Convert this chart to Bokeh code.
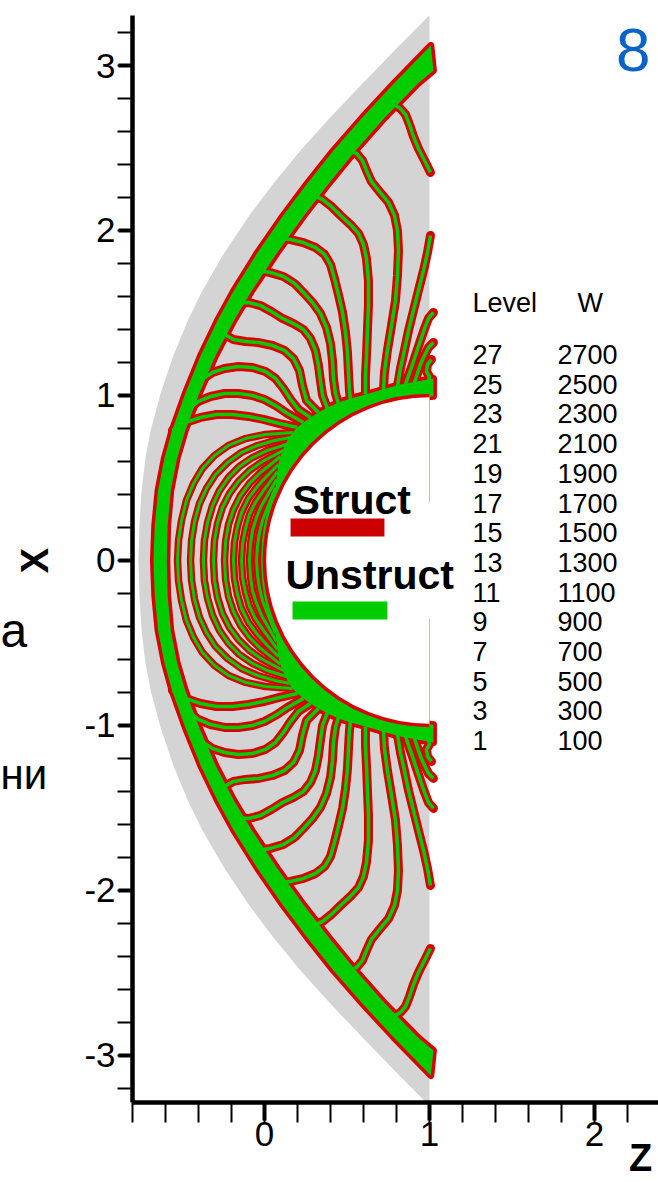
import math
from bokeh.plotting import figure
from bokeh.models import Range1d, FixedTicker, Label, ColumnDataSource
from bokeh.core.properties import value
from bokeh.embed import file_html
from bokeh.resources import INLINE

# ---------------------------------------------------------------
# Geometry and contour traces (upper half, z along axis, x across)
# The flow field is symmetric about x = 0; lower half is mirrored.
# ---------------------------------------------------------------

# bow shock (edge of the computational domain)
shock_z = [0.992, 0.788, 0.594, 0.398, 0.218, 0.054, -0.092, -0.242, -0.376, -0.465,
           -0.552, -0.628, -0.690, -0.722, -0.745, -0.758, -0.764]
shock_x = [3.297, 3.091, 2.891, 2.685, 2.485, 2.285, 2.091, 1.867, 1.636, 1.455,
           1.242, 1.018, 0.788, 0.618, 0.424, 0.212, 0.0]

# shock-layer band where the contour levels pile up
band_out_z = [1.008, 0.784, 0.593, 0.418, 0.259, 0.113, -0.042, -0.186, -0.285, -0.387,
              -0.478, -0.560, -0.607, -0.645, -0.665, -0.673]
band_out_x = [3.121, 2.891, 2.685, 2.485, 2.285, 2.091, 1.867, 1.636, 1.455, 1.242,
              1.018, 0.788, 0.618, 0.424, 0.212, 0.0]
band_in_z = [1.024, 0.930, 0.730, 0.553, 0.390, 0.240, 0.078, -0.076, -0.185, -0.296,
             -0.393, -0.480, -0.530, -0.568, -0.587, -0.592]
band_in_x = [2.970, 2.891, 2.685, 2.485, 2.285, 2.091, 1.867, 1.636, 1.455, 1.242,
             1.018, 0.788, 0.618, 0.424, 0.212, 0.0]

# band hugging the body surface (outer edge, then back inside the body)
body_band_z = [1.024, 0.824, 0.715, 0.612, 0.521, 0.448, 0.382, 0.327, 0.279, 0.236, 0.200,
               0.170, 0.145, 0.127, 0.109, 0.097, 0.085, 0.079, 0.073, 0.067, 0.061, 0.067,
               0.98, 0.98, 1.024]
body_band_x = [1.103, 1.067, 1.036, 1.006, 0.982, 0.958, 0.927, 0.897, 0.867, 0.836, 0.806,
               0.776, 0.739, 0.703, 0.667, 0.630, 0.588, 0.545, 0.497, 0.448, 0.400, 0.364,
               0.364, 0.990, 0.995]

# body: circle of radius 1 centred on the axis at z = 1
body_z0, body_x0, body_r = 1.0, 0.0, 1.0

# contour lines running from the shock band towards the body
L1_z = [0.782, 0.824, 0.855, 0.879, 0.903, 0.933, 0.970, 1.006]
L1_x = [2.764, 2.739, 2.703, 2.642, 2.570, 2.497, 2.424, 2.352]
L2_z = [1.006, 0.988, 0.964, 0.933, 0.903, 0.873, 0.848, 0.824, 0.806]
L2_x = [1.970, 1.867, 1.758, 1.636, 1.515, 1.394, 1.273, 1.164, 1.055]
H1_z = [1.024, 0.994, 0.970, 0.945, 0.921, 0.897, 0.873, 0.855]
H1_x = [1.503, 1.467, 1.406, 1.333, 1.261, 1.188, 1.121, 1.067]
H2_z = [1.024, 0.994, 0.970, 0.945, 0.927, 0.909]
H2_x = [1.321, 1.291, 1.242, 1.188, 1.133, 1.079]
H3_z = [1.012, 0.988, 0.982, 1.000, 0.994]
H3_x = [1.218, 1.188, 1.145, 1.115, 1.079]
L3_z = [0.509, 0.558, 0.594, 0.618, 0.648, 0.697, 0.752, 0.788, 0.806, 0.812, 0.806,
        0.794, 0.770, 0.745, 0.727, 0.721]
L3_x = [2.485, 2.467, 2.424, 2.364, 2.297, 2.236, 2.170, 2.091, 2.000, 1.879, 1.727,
        1.576, 1.424, 1.273, 1.139, 1.030]
L4_z = [0.297, 0.352, 0.406, 0.461, 0.521, 0.570, 0.600, 0.618, 0.630, 0.630, 0.624,
        0.618, 0.612, 0.612]
L4_x = [2.212, 2.188, 2.145, 2.091, 2.036, 1.982, 1.915, 1.830, 1.697, 1.545, 1.394,
        1.242, 1.121, 1.006]
L5_z = [0.085, 0.158, 0.236, 0.309, 0.364, 0.400, 0.424, 0.448, 0.473, 0.491, 0.503,
        0.509, 0.515, 0.521]
L5_x = [1.952, 1.945, 1.927, 1.897, 1.855, 1.794, 1.709, 1.612, 1.503, 1.382, 1.261,
        1.139, 1.030, 0.976]
L6_z = [-0.036, 0.036, 0.115, 0.182, 0.236, 0.291, 0.339, 0.376, 0.400, 0.412, 0.418,
        0.430, 0.448]
L6_x = [1.758, 1.745, 1.721, 1.679, 1.624, 1.564, 1.497, 1.412, 1.315, 1.212, 1.103,
        1.012, 0.952]
L7_z = [-0.170, -0.097, -0.024, 0.042, 0.109, 0.176, 0.236, 0.279, 0.309, 0.327, 0.339,
        0.352, 0.382]
L7_x = [1.558, 1.564, 1.545, 1.509, 1.467, 1.436, 1.400, 1.345, 1.273, 1.182, 1.091,
        1.000, 0.921]
L8_z = [-0.242, -0.188, -0.115, -0.036, 0.048, 0.121, 0.176, 0.212, 0.230, 0.255, 0.327]
L8_x = [1.370, 1.339, 1.327, 1.321, 1.303, 1.273, 1.224, 1.152, 1.061, 0.970, 0.897]
L9_z = [-0.370, -0.315, -0.242, -0.158, -0.073, 0.006, 0.067, 0.115, 0.158, 0.206, 0.279]
L9_x = [1.103, 1.139, 1.164, 1.176, 1.170, 1.145, 1.103, 1.042, 0.976, 0.915, 0.867]
L10_z = [-0.455, -0.400, -0.327, -0.242, -0.158, -0.073, 0.000, 0.067, 0.139, 0.236]
L10_x = [0.921, 0.964, 0.994, 1.012, 1.012, 1.000, 0.976, 0.939, 0.891, 0.836]
L11_z = [-0.558, -0.479, -0.388, -0.291, -0.194, -0.097, -0.006, 0.091, 0.200]
L11_x = [0.788, 0.836, 0.867, 0.885, 0.885, 0.873, 0.855, 0.830, 0.806]

# nested contour arcs crossing the stagnation line
A1_z = [-0.527, -0.521, -0.503, -0.473, -0.430, -0.376, -0.303, -0.218, -0.115, 0.006, 0.170]
A1_x = [0.0, 0.121, 0.242, 0.364, 0.467, 0.558, 0.636, 0.697, 0.739, 0.764, 0.776]
A2_z = [-0.448, -0.442, -0.424, -0.394, -0.352, -0.297, -0.224, -0.139, -0.042, 0.061, 0.158]
A2_x = [0.0, 0.121, 0.236, 0.345, 0.436, 0.521, 0.594, 0.655, 0.697, 0.727, 0.745]
A3_z = [-0.370, -0.364, -0.345, -0.315, -0.273, -0.218, -0.152, -0.073, 0.018, 0.133]
A3_x = [0.0, 0.121, 0.230, 0.333, 0.424, 0.503, 0.570, 0.624, 0.667, 0.703]
A4_z = [-0.309, -0.303, -0.285, -0.255, -0.212, -0.158, -0.091, -0.012, 0.115]
A4_x = [0.0, 0.121, 0.224, 0.321, 0.406, 0.479, 0.545, 0.600, 0.667]
A5_z = [-0.242, -0.236, -0.218, -0.188, -0.145, -0.091, -0.024, 0.097]
A5_x = [0.0, 0.115, 0.218, 0.309, 0.394, 0.467, 0.533, 0.630]
A6_z = [-0.188, -0.182, -0.164, -0.139, -0.097, -0.048, 0.012, 0.085]
A6_x = [0.0, 0.109, 0.206, 0.291, 0.376, 0.442, 0.509, 0.582]
A7_z = [-0.139, -0.133, -0.115, -0.091, -0.055, -0.006, 0.079]
A7_x = [0.0, 0.103, 0.194, 0.279, 0.352, 0.424, 0.539]
A8_z = [-0.091, -0.085, -0.073, -0.048, -0.018, 0.024, 0.073]
A8_x = [0.0, 0.097, 0.182, 0.261, 0.333, 0.406, 0.491]
A9_z = [-0.048, -0.042, -0.030, -0.012, 0.018, 0.067]
A9_x = [0.0, 0.091, 0.170, 0.242, 0.321, 0.442]
A10_z = [-0.012, -0.006, 0.006, 0.024, 0.048, 0.067]
A10_x = [0.0, 0.121, 0.212, 0.291, 0.364, 0.400]

# level table
levels = [27, 25, 23, 21, 19, 17, 15, 13, 11, 9, 7, 5, 3, 1]
w_values = [2700, 2500, 2300, 2100, 1900, 1700, 1500, 1300, 1100, 900, 700, 500, 300, 100]

# axis ticks
z_ticks = [0, 1, 2]
x_ticks = [-3, -2, -1, 0, 1, 2, 3]
z_bounds = (-0.80, 2.388)
x_bounds = (-3.285, 3.303)

RED = "#da0000"
GREEN = "#00cc00"
GRAY = "#d4d4d4"
FONT = "Liberation Sans"


def neg(v):
    return [-a for a in v]


def full_curve(z, x):
    """upper-half curve (top -> axis) continued through its mirror image"""
    return z + z[-2::-1], x + neg(x[-2::-1])


# the frame spans the whole canvas; axes sit at fixed locations inside it
p = figure(width=658, height=1182,
           x_range=Range1d(-1.6, 2.388), y_range=Range1d(-3.770, 3.394),
           output_backend="svg", toolbar_location=None, min_border=0)
p.outline_line_color = None
p.grid.visible = False
p.background_fill_color = "white"
p.border_fill_color = "white"

# domain between shock, the cut at z = 1 and the body surface
sz, sx = full_curve(shock_z, shock_x)
n_arc = 90
body_t = [1.5 * math.pi - math.pi * k / n_arc for k in range(n_arc + 1)]
arc_z = [body_z0 + body_r * math.cos(t) for t in body_t]
arc_x = [body_x0 + body_r * math.sin(t) for t in body_t]
p.patch(sz + [1.0] + arc_z + [1.0], sx + [-3.297] + arc_x + [3.297],
        fill_color=GRAY, line_color=None)

# shock-layer band polygon
oz, ox = full_curve(band_out_z, band_out_x)
iz, ix = full_curve(band_in_z, band_in_x)
sb_z = oz + iz[::-1]
sb_x = ox + ix[::-1]

bands_z = [sb_z, body_band_z, body_band_z]
bands_x = [sb_x, body_band_x, neg(body_band_x)]

open_lines = [(L1_z, L1_x), (L2_z, L2_x), (H1_z, H1_x), (H2_z, H2_x), (H3_z, H3_x),
              (L3_z, L3_x), (L4_z, L4_x), (L5_z, L5_x), (L6_z, L6_x), (L7_z, L7_x),
              (L8_z, L8_x), (L9_z, L9_x), (L10_z, L10_x), (L11_z, L11_x)]
arcs = [(A1_z, A1_x), (A2_z, A2_x), (A3_z, A3_x), (A4_z, A4_x), (A5_z, A5_x),
        (A6_z, A6_x), (A7_z, A7_x), (A8_z, A8_x), (A9_z, A9_x), (A10_z, A10_x)]

open_xs, open_ys = [], []
for z, x in open_lines:
    open_xs += [z, z]
    open_ys += [x, neg(x)]
arc_xs, arc_ys = [], []
for z, x in arcs:
    arc_xs.append(z[::-1] + z[1:])
    arc_ys.append(x[::-1] + neg(x[1:]))

# structured-grid contours (red, wide) under unstructured ones (green, narrow)
p.patches(bands_z, bands_x, fill_color=RED, line_color=RED, line_width=7, line_join="round")
p.multi_line(open_xs, open_ys, line_color=RED, line_width=9,
             line_join="round", line_cap="round")
p.multi_line(arc_xs, arc_ys, line_color=RED, line_width=7.5,
             line_join="round", line_cap="round")
p.patches(bands_z, bands_x, fill_color=GREEN, line_color=None)
p.multi_line(open_xs, open_ys, line_color=GREEN, line_width=3.6, line_join="round")
p.multi_line(arc_xs, arc_ys, line_color=GREEN, line_width=3.0, line_join="round")

# body
p.wedge(x=[body_z0], y=[body_x0], radius=body_r, start_angle=math.pi / 2,
        end_angle=3 * math.pi / 2, fill_color="white", line_color=None)
p.arc(x=[body_z0], y=[body_x0], radius=body_r, start_angle=math.pi / 2,
      end_angle=3 * math.pi / 2, line_color=RED, line_width=3.5)

# axes
p.xaxis.fixed_location = x_bounds[0]
p.yaxis.fixed_location = z_bounds[0]
p.xaxis.bounds = z_bounds
p.yaxis.bounds = x_bounds
p.xaxis.ticker = FixedTicker(ticks=z_ticks,
                             minor_ticks=[round(-0.8 + 0.2 * i, 1) for i in range(16)])
p.yaxis.ticker = FixedTicker(ticks=x_ticks,
                             minor_ticks=[round(-3.2 + 0.2 * i, 1) for i in range(33)])
p.xaxis.major_label_overrides = {t: str(t) for t in z_ticks}
p.yaxis.major_label_overrides = {t: str(t) for t in x_ticks}
for ax in (p.xaxis[0], p.yaxis[0]):
    ax.axis_line_width = 4.5
    ax.axis_line_color = "black"
    ax.major_tick_line_width = 4
    ax.minor_tick_line_width = 2
    ax.major_tick_in = 0
    ax.minor_tick_in = 0
    ax.major_label_text_font = FONT
    ax.major_label_text_font_size = "35px"
    ax.major_label_text_color = "black"
p.yaxis.major_tick_out = 14
p.yaxis.minor_tick_out = 15
p.yaxis.major_label_standoff = 2
p.xaxis.major_tick_out = 18
p.xaxis.minor_tick_out = 20
p.xaxis.major_label_standoff = 0

# axis titles (bold)
p.text(x=[-1.388], y=[0.0], text=["X"], angle=math.pi / 2, text_font=value(FONT),
       text_font_style="bold", text_font_size=value("38px"), text_color="black",
       text_align="center", text_baseline="middle")
p.text(x=[2.279], y=[-3.624], text=["Z"], text_font=value(FONT),
       text_font_style="bold", text_font_size=value("38px"), text_color="black",
       text_align="center", text_baseline="middle")

# page text at the left margin
p.add_layout(Label(x=-1.6, y=-0.424, text="а", text_font=FONT, text_font_size="48px",
                   text_color="black", text_align="left", text_baseline="middle"))
p.add_layout(Label(x=-1.6, y=-1.297, text="ни", text_font=FONT, text_font_size="42px",
                   text_color="black", text_align="left", text_baseline="middle"))

# panel number
p.add_layout(Label(x=2.339, y=3.097, text="8", text_font=FONT, text_font_size="62px",
                   text_color="#0a64c8", text_align="right", text_baseline="middle"))

# contour level table
row_y = [1.248 - 0.18 * i for i in range(len(levels))]
src = ColumnDataSource(dict(lz=[1.261] * len(levels), wz=[1.776] * len(levels), y=row_y,
                            lev=[str(v) for v in levels], w=[str(v) for v in w_values]))
for col, txt in (("lz", "lev"), ("wz", "w")):
    p.text(x=col, y="y", text=txt, source=src,
           text_font=value(FONT), text_font_size=value("27px"),
           text_baseline="middle", text_align="left", text_color="black")
p.text(x=[1.261, 1.897], y=[1.561, 1.561], text=["Level", "W"], text_font=value(FONT),
       text_font_size=value("27px"), text_baseline="middle", text_align="left",
       text_color="black")

# legend for the two grids
p.text(x=[0.170, 0.127], y=[0.364, -0.091], text=["Struct", "Unstruct"],
       text_font=value(FONT), text_font_style="bold", text_font_size=value("41px"),
       text_baseline="middle", text_align="left", text_color="black")
p.quad(left=[0.158, 0.170], right=[0.727, 0.745], top=[0.255, -0.248],
       bottom=[0.145, -0.358], fill_color=["#cc0000", GREEN], line_color=None)

open("out.html", "w").write(file_html(p, INLINE))
